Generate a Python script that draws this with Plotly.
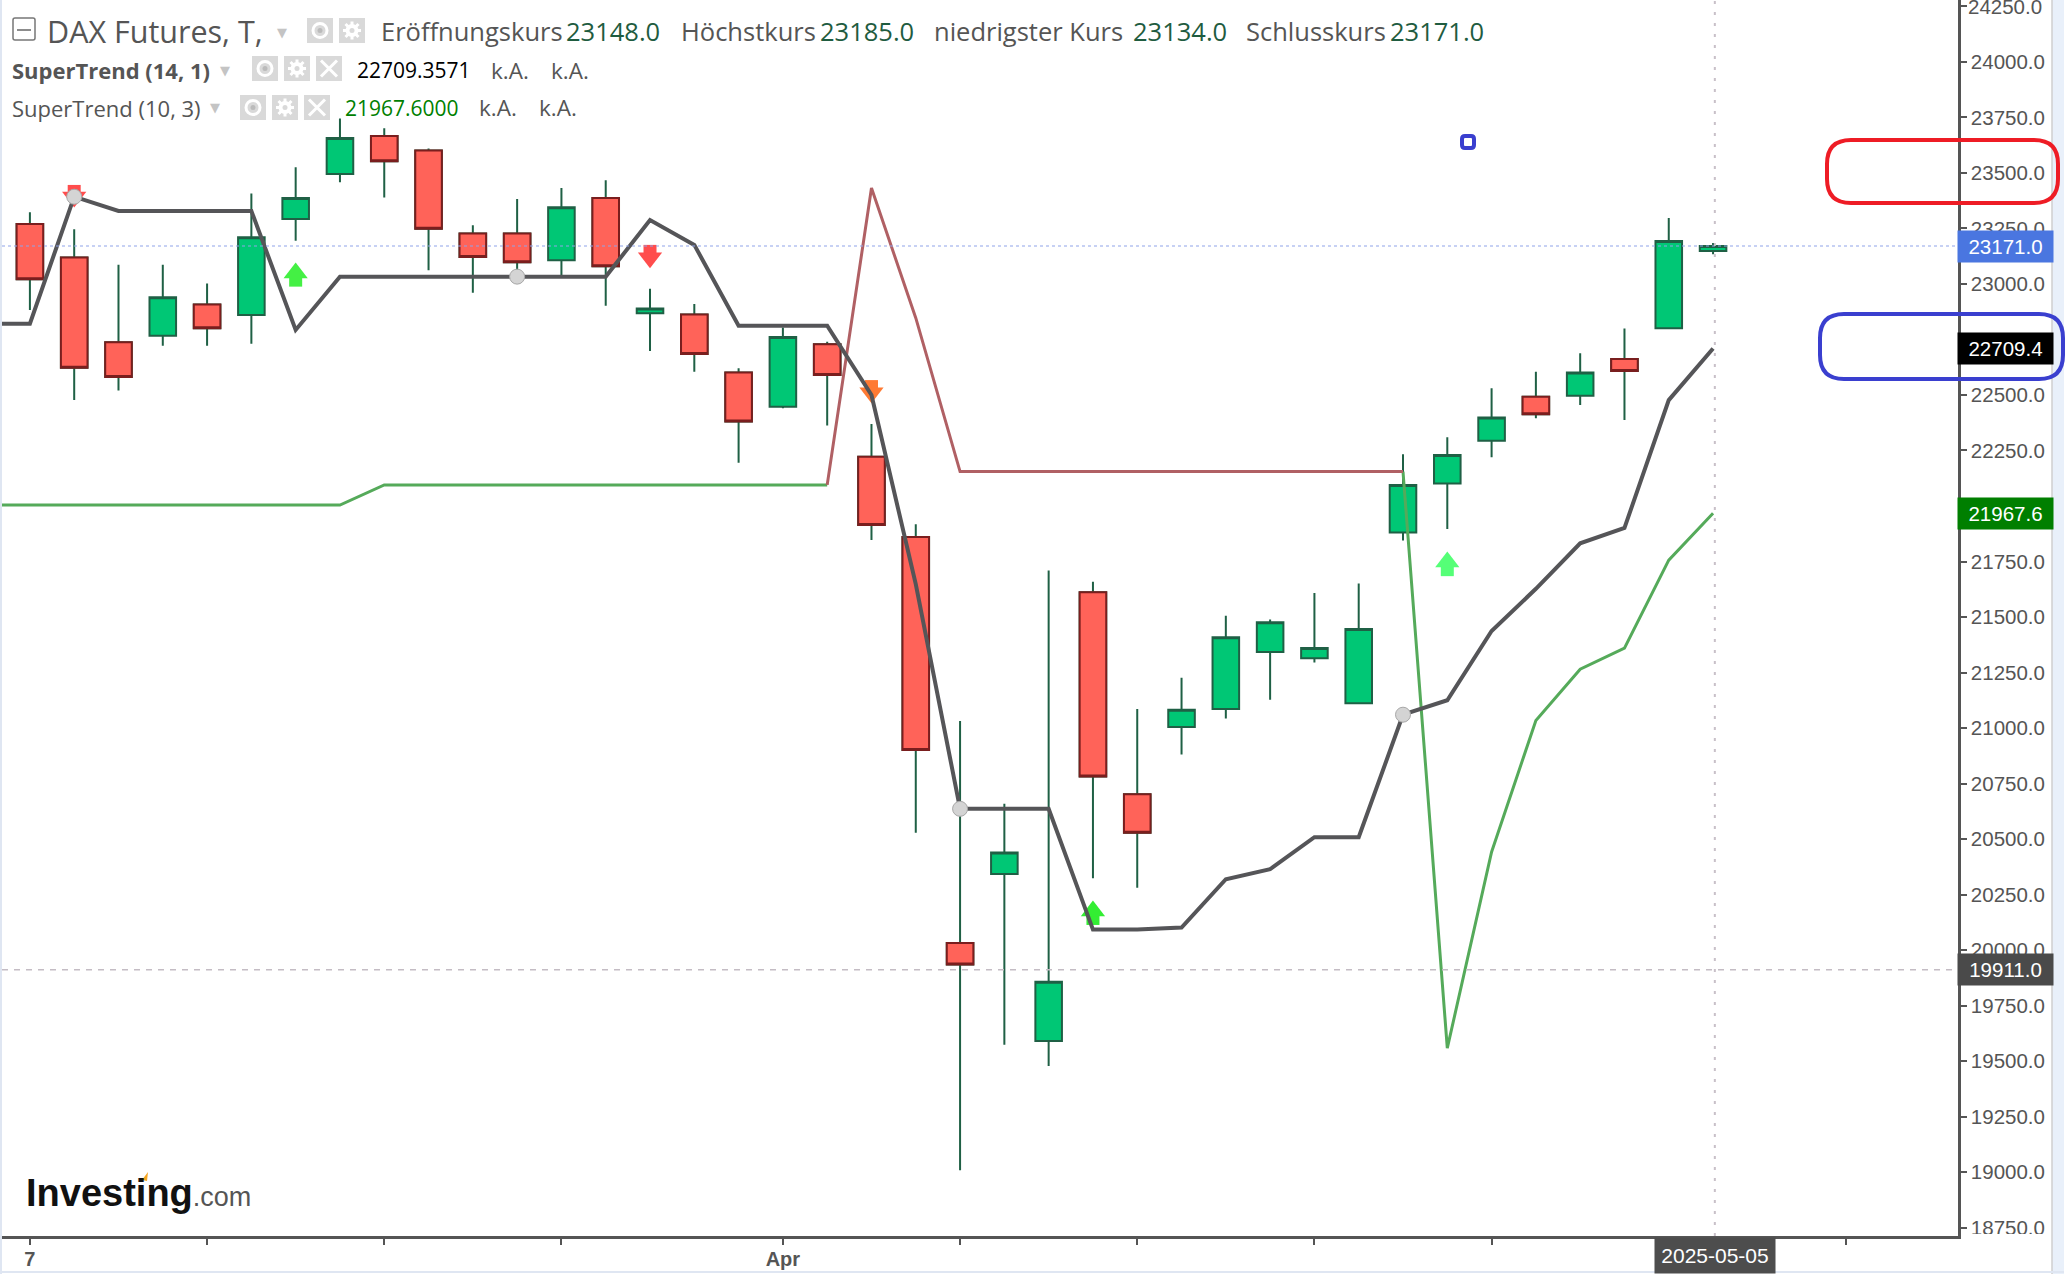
import plotly.graph_objects as go

WIDTH = 2071
HEIGHT = 1274
PLOT_L, PLOT_R, PLOT_T, PLOT_B = 2, 1958, 0, 1236

# daily candles
bars = list(range(39))
opens = [23270, 23119, 22737, 22767, 22907, 22860, 23293, 23495, 23667, 23601, 23227, 23227, 23107,
         23387, 22868, 22863, 22601, 22447, 22728, 22222, 21860, 20032, 20342, 19590, 21612, 20702,
         21004, 21086, 21342, 21314, 21112, 21881, 22101, 22294, 22492, 22497, 22662, 22800, 23148]
highs = [23323, 23246, 23086, 23086, 23002, 23408, 23526, 23745, 23701, 23610, 23264, 23383, 23432,
         23467, 22978, 22910, 22620, 22804, 22740, 22369, 21918, 21032, 20659, 21709, 21659, 21086,
         21226, 21506, 21489, 21608, 21651, 22233, 22310, 22530, 22605, 22688, 22799, 23297, 23185]
lows = [22883, 22477, 22520, 22722, 22722, 22731, 23195, 23458, 23389, 23062, 22961, 23033, 23033,
        22902, 22698, 22605, 22195, 22440, 22362, 21847, 20528, 19008, 19573, 19478, 20323, 20280,
        20881, 21043, 21127, 21295, 21112, 21845, 21896, 22220, 22395, 22455, 22387, 22800, 23134]
closes = [23021, 22623, 22581, 22940, 22800, 23210, 23387, 23658, 23553, 23249, 23122, 23098, 23345,
          23080, 22890, 22685, 22380, 22761, 22590, 21914, 20901, 19935, 20439, 19857, 20782, 20528,
          21082, 21409, 21476, 21360, 21446, 22095, 22230, 22399, 22413, 22601, 22608, 23194, 23171]

# indicator lines start one bar before the first candle, off the left edge
line_bars = [-1] + bars

# SuperTrend (14, 1)
st_14 = [22821, 22821, 23393, 23329, 23329, 23329, 23329, 22793, 23033, 23033, 23033, 23033, 23033, 23033,
         23033, 23288, 23176, 22812, 22812, 22812, 22500, 21648, 20636, 20636, 20636, 20092, 20092,
         20101, 20319, 20364, 20508, 20508, 21060, 21125, 21437, 21627, 21832, 21901, 22477, 22709.4]

# SuperTrend (10, 3), green and red stretches
st_10_up = [22004, 22004, 22004, 22004, 22004, 22004, 22004, 22004, 22004, 22095, 22095, 22095, 22095, 22095,
            22095, 22095, 22095, 22095, 22095, 22095, None, None, None, None, None, None, None,
            None, None, None, None, None, 22155, 19558, 20442, 21034, 21265, 21360, 21756, 21967.6]
st_10_down = [None, None, None, None, None, None, None, None, None, None, None, None, None, None,
              None, None, None, None, None, 22095, 23432, 22847, 22155, 22155, 22155, 22155, 22155,
              22155, 22155, 22155, 22155, 22155, 22155, None, None, None, None, None, None, None]

# signal arrows: bar, head centre, tail end, colour
arrow_bars = [1, 6, 14, 19, 24, 32]
arrow_heads = [23392, 23049, 23118, 22510, 20176, 21748]
arrow_tails = [23446, 22988, 23176, 22567, 20113, 21684]
arrow_dirs = ["down", "up", "down", "down", "up", "up"]
arrow_colors = ["#ff4d4d", "#44f044", "#ff4d4d", "#ff7a33", "#33ee33", "#55ff77"]

# trend flip dots
dot_bars = [1, 11, 21, 31]
dot_values = [23393, 23033, 20636, 21060]

y_ticks = [18750 + 250 * i for i in range(23)]
top_tick = 24250
x_tick_bars = [0, 4, 8, 12, 17, 21, 25, 29, 33, 37, 41]
x_tick_text = ["<b>7</b>", "", "", "", "<b>Apr</b>", "", "", "", "", "", ""]

last_price = 23171.0
st_14_last = 22709.4
st_10_last = 21967.6
cross_price = 19911.0
cross_bar = 38.04
cross_date = "2025-05-05"


def px(x):
    return (x - PLOT_L) / (PLOT_R - PLOT_L)


def py(y):
    return 1 - (y - PLOT_T) / (PLOT_B - PLOT_T)


def round_rect(x0, y0, x1, y1, r):
    a, b, c, d = px(x0), py(y0), px(x1), py(y1)
    rx = r / (PLOT_R - PLOT_L)
    ry = r / (PLOT_B - PLOT_T)
    return (f"M {a + rx} {b} L {c - rx} {b} Q {c} {b} {c} {b - ry} L {c} {d + ry} Q {c} {d} {c - rx} {d} "
            f"L {a + rx} {d} Q {a} {d} {a} {d + ry} L {a} {b - ry} Q {a} {b} {a + rx} {b} Z")


def paper_shape(**kw):
    fig.add_shape(xref="paper", yref="paper", layer="above", **kw)


fig = go.Figure()

fig.add_trace(go.Candlestick(
    x=bars, open=opens, high=highs, low=lows, close=closes,
    increasing=dict(fillcolor="#00c775", line=dict(color="#1f6045", width=2)),
    decreasing=dict(fillcolor="#ff6359", line=dict(color="#1f6045", width=2)),
    whiskerwidth=0, hoverinfo="skip",
))
# red bodies get their own darker edge, wicks stay green
red = [i for i in bars if closes[i] < opens[i]]
fig.add_trace(go.Candlestick(
    x=red,
    open=[opens[i] for i in red], high=[opens[i] for i in red],
    low=[closes[i] for i in red], close=[closes[i] for i in red],
    decreasing=dict(fillcolor="#ff6359", line=dict(color="#7a1e1e", width=2)),
    whiskerwidth=0, hoverinfo="skip",
))

fig.add_trace(go.Scatter(x=line_bars, y=st_10_up, mode="lines", line=dict(color="#55aa5a", width=3)))
fig.add_trace(go.Scatter(x=line_bars, y=st_10_down, mode="lines", line=dict(color="#b06064", width=3)))

# arrows go under the black line
for bar, head, tail, way, col in zip(arrow_bars, arrow_heads, arrow_tails, arrow_dirs, arrow_colors):
    fig.add_trace(go.Scatter(x=[bar, bar], y=[head, tail], mode="lines", line=dict(color=col, width=13)))
    fig.add_trace(go.Scatter(x=[bar], y=[head], mode="markers",
                             marker=dict(symbol="triangle-" + way, size=21, color=col)))

fig.add_trace(go.Scatter(x=line_bars, y=st_14, mode="lines", line=dict(color="#555558", width=4)))
fig.add_trace(go.Scatter(x=dot_bars, y=dot_values, mode="markers",
                         marker=dict(size=15, color="#d4d4d4", line=dict(color="#a8a8a8", width=1))))

fig.add_hline(y=last_price, line=dict(color="#8fa3ea", width=1.2, dash="dot"))
fig.add_hline(y=cross_price, line=dict(color="#c4bcc4", width=1.5, dash="6px,6px"))
fig.add_vline(x=cross_bar, line=dict(color="#c8c0c8", width=2, dash="3px,8px"))

# page edges, the white patch cuts the lowest tick label like the original
paper_shape(type="rect", line_width=0, fillcolor="white", x0=px(1966), x1=px(2052), y0=py(1234), y1=py(1274))
paper_shape(type="rect", line_width=0, fillcolor="#e9f0fa", x0=px(2052), x1=px(2064), y0=py(0), y1=py(1274))
paper_shape(type="line", line=dict(color="#cfcfcf", width=1.5), x0=px(2052), x1=px(2052), y0=py(0), y1=py(1274))
paper_shape(type="line", line=dict(color="#dfe6f2", width=2), x0=px(1), x1=px(1), y0=py(0), y1=py(1274))
paper_shape(type="line", line=dict(color="#dfe6f2", width=2), x0=px(0), x1=px(2064), y0=py(1272), y1=py(1272))

# hand drawn marks on top of the screenshot
paper_shape(type="path", path=round_rect(1827, 140, 2058, 203, 24), line=dict(color="#ee1c25", width=4))
paper_shape(type="path", path=round_rect(1820, 314, 2063, 379, 24), line=dict(color="#3a3fcf", width=4))
paper_shape(type="path", path=round_rect(1462, 136, 1474, 148, 3), line=dict(color="#3a3fcf", width=4),
            fillcolor="white")

# collapse box and indicator icon boxes
paper_shape(type="path", path=round_rect(13, 18, 35, 40, 2), line=dict(color="#777777", width=1.5))
paper_shape(type="line", line=dict(color="#666666", width=1.5), x0=px(17), x1=px(31), y0=py(30), y1=py(30))


def icon_box(x0, y0, kind):
    paper_shape(type="rect", line_width=0, fillcolor="#d9d9d9", x0=px(x0), x1=px(x0 + 26), y0=py(y0), y1=py(y0 + 25))
    cx, cy = x0 + 13, y0 + 12.5
    if kind == "close":
        for d in (-1, 1):
            paper_shape(type="line", line=dict(color="white", width=3),
                        x0=px(cx - 8), x1=px(cx + 8), y0=py(cy - 8 * d), y1=py(cy + 8 * d))
    elif kind == "eye":
        paper_shape(type="circle", line=dict(color="white", width=3), fillcolor="#d9d9d9",
                    x0=px(cx - 7), x1=px(cx + 7), y0=py(cy - 7), y1=py(cy + 7))
        paper_shape(type="circle", line_width=0, fillcolor="#bbbbbb",
                    x0=px(cx - 2.5), x1=px(cx + 2.5), y0=py(cy - 2.5), y1=py(cy + 2.5))
    else:
        # gear: solid disc, cross for the teeth, small hole
        for dx, dy in [(9, 0), (0, 9), (6.5, 6.5), (6.5, -6.5)]:
            paper_shape(type="line", line=dict(color="white", width=3),
                        x0=px(cx - dx), x1=px(cx + dx), y0=py(cy - dy), y1=py(cy + dy))
        paper_shape(type="circle", line_width=0, fillcolor="white",
                    x0=px(cx - 6.5), x1=px(cx + 6.5), y0=py(cy - 6.5), y1=py(cy + 6.5))
        paper_shape(type="circle", line_width=0, fillcolor="#d9d9d9",
                    x0=px(cx - 2.5), x1=px(cx + 2.5), y0=py(cy - 2.5), y1=py(cy + 2.5))


for x0, y0, kind in [(307, 18, "eye"), (339, 18, "gear"),
                     (252, 56, "eye"), (284, 56, "gear"), (316, 56, "close"),
                     (240, 95, "eye"), (272, 95, "gear"), (304, 95, "close")]:
    icon_box(x0, y0, kind)


def label(x, y, text, color="#555555", size=25.5, family="Open Sans", anchor="left"):
    fig.add_annotation(xref="paper", yref="paper", x=px(x), y=py(y), text=text, showarrow=False,
                       xanchor=anchor, yanchor="middle", font=dict(family=family, size=size, color=color))


for x, y in [(282, 32), (225, 70), (215, 108)]:
    label(x, y, "▼", color="#c4c4c4", size=13, family="DejaVu Sans", anchor="center")

HEAD_GREEN = "#1f5c3f"
label(45, 31, "DAX Futures, T,", size=30.5)
label(379, 31, "Eröffnungskurs")
label(564, 31, "23148.0", color=HEAD_GREEN)
label(679, 31, "Höchstkurs")
label(818, 31, "23185.0", color=HEAD_GREEN)
label(932, 31, "niedrigster Kurs")
label(1131, 31, "23134.0", color=HEAD_GREEN)
label(1244, 31, "Schlusskurs")
label(1388, 31, "23171.0", color=HEAD_GREEN)

label(10, 70, "<b>SuperTrend (14, 1)</b>", size=22)
label(355, 70, "22709.3571", color="#000000", size=21)
label(489, 70, "k.A.", size=22.5)
label(549, 70, "k.A.", size=22.5)

label(10, 108, "SuperTrend (10, 3)", size=22)
label(343, 108, "21967.6000", color="#008000", size=21)
label(477, 108, "k.A.", size=22.5)
label(537, 108, "k.A.", size=22.5)

# logo
label(24, 1193, "<b>Investing</b><span style='font-size:27px;color:#555555'>.com</span>",
      color="#111111", size=38, family="Liberation Sans")
paper_shape(type="path", fillcolor="#f5a623", line_width=0,
            path=f"M {px(142)} {py(1180)} L {px(148)} {py(1172)} L {px(147)} {py(1181)} Z")


def price_tag(value, text, bg):
    fig.add_annotation(xref="paper", yref="y", x=px(1957), y=value, text=text, showarrow=False,
                       xanchor="left", yanchor="middle", width=93, height=29, align="center", bgcolor=bg,
                       font=dict(family="Liberation Sans", size=20.5, color="white"))


price_tag(last_price, f"{last_price:.1f}", "#4a76e0")
price_tag(st_14_last, f"{st_14_last:.1f}", "#000000")
price_tag(st_10_last, f"{st_10_last:.1f}", "#007f00")
price_tag(cross_price, f"{cross_price:.1f}", "#4a4a4a")

# plotly drops the top tick label because it runs off the page
fig.add_annotation(xref="paper", yref="y", x=px(1966), y=top_tick, text=f"{top_tick:.1f}", showarrow=False,
                   xanchor="left", yanchor="middle",
                   font=dict(family="Liberation Sans", size=20.5, color="#555555"))

fig.add_annotation(xref="x", yref="paper", x=cross_bar, y=py(1237), text=cross_date, showarrow=False,
                   xanchor="center", yanchor="top", width=118, height=33, bgcolor="#4d4d4d",
                   font=dict(family="Liberation Sans", size=21, color="white"))

fig.update_xaxes(
    range=[-0.63, 43.53], showgrid=False, zeroline=False, rangeslider_visible=False,
    showline=True, linecolor="#555555", linewidth=2.5,
    tickmode="array", tickvals=x_tick_bars, ticktext=x_tick_text,
    ticks="outside", ticklen=6, tickcolor="#555555", tickwidth=1.5, ticklabelstandoff=-3,
    tickfont=dict(family="Liberation Sans", size=20, color="#555555"),
)
fig.update_yaxes(
    range=[18712, 24279], side="right", showgrid=False, zeroline=False,
    showline=True, linecolor="#555555", linewidth=2.5,
    tickmode="array", tickvals=y_ticks, tickformat=".1f",
    ticks="outside", ticklen=6, tickcolor="#555555", tickwidth=1.5,
    tickfont=dict(family="Liberation Sans", size=20.5, color="#555555"),
)
fig.update_layout(
    width=WIDTH, height=HEIGHT, showlegend=False,
    margin=dict(l=PLOT_L, r=WIDTH - PLOT_R, t=PLOT_T, b=HEIGHT - PLOT_B, pad=0),
    paper_bgcolor="white", plot_bgcolor="white", boxgap=0.4, boxgroupgap=0,
)

fig.write_html("out.html", config={"displayModeBar": False},
               post_script="document.body.style.margin='0';document.body.style.overflow='hidden';")
